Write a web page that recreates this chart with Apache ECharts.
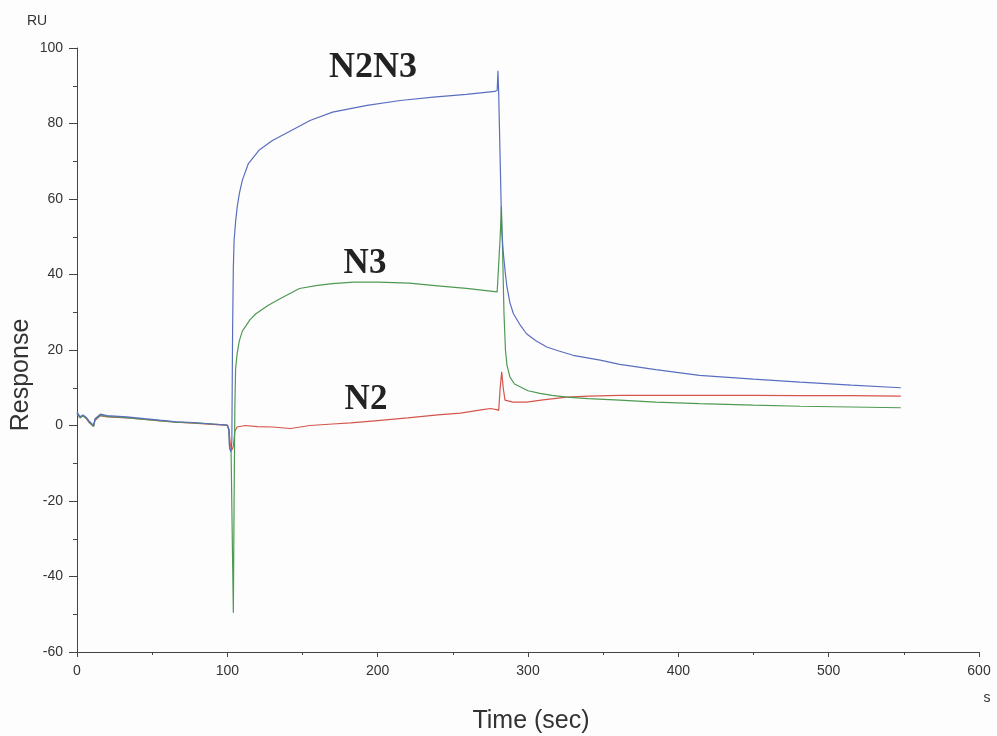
<!DOCTYPE html>
<html>
<head>
<meta charset="utf-8">
<style>
  html, body { margin: 0; padding: 0; background: #fdfdfd; }
  #chart { width: 997px; height: 736px; }
</style>
<script src="https://cdn.jsdelivr.net/npm/echarts@6/dist/echarts.min.js"></script>
</head>
<body>
<div id="chart"></div>
<script>
// Sensorgram: response (RU) against time (sec) for three analytes.
const n2n3Time = [0,2,4,6,8,11,12,15.5,20,33,45,55,66,77.5,90,97.5,100,101,101.5,102.5,103,103.5,104,104.5,105.5,106.6,108,110,114,121,130,141,155,170,193,215,237,259,278,279.5,280,280.5,281.5,282.5,283.5,285,286,288,290.3,295,299,305,312.5,320,330,348,361,385,414,450,481,515,548];
const n2n3Resp = [3.6,2.3,2.8,2.2,1.2,0,1.8,3,2.6,2.3,1.8,1.4,1.0,0.8,0.4,0.2,0.1,-1,-6,-7,-4,25,42,49,54,58,61.5,65,69.4,72.9,75.5,77.8,80.8,83,84.8,86.1,87,87.7,88.5,88.8,94,88,70,52,46,40,36.7,32.5,29.6,26.5,24.3,22.5,20.8,19.8,18.6,17.3,16.2,14.8,13.3,12.3,11.5,10.7,10.0];

const n3Time = [0,2,4,6,8,11,12,15.5,20,33,45,55,66,77.5,90,97.5,100,101,101.5,102.5,103.3,104,104.5,105,105.5,106.5,108,110,115,119,127,135,148,160,170,184,200,221,240,259,279.5,280.5,281.5,282.3,283,284,285,286,288,291,295,300,308,316,326,340,361,385,414,450,481,515,548];
const n3Resp = [3.2,2.0,2.6,2.0,1.0,-0.3,1.5,2.7,2.4,2.1,1.6,1.3,0.9,0.7,0.4,0.2,0,-1.2,-6,-7,-30,-49.6,-20,5,15,19,22.5,25,28,29.6,31.8,33.6,36.3,37.1,37.6,38,38,37.7,37,36.3,35.4,35.5,50,58,48,30,20,16,12.8,11,10.2,9.2,8.5,8,7.5,7.1,6.7,6.2,5.8,5.4,5.1,4.9,4.7];

const n2Time = [0,2,4,6,8,11,12,15.5,20,33,45,55,66,77.5,90,97.5,100,101,102,103,104,105,106.5,112,120,130,142,155,170,182,200,220,240,255,270,275,279,280.5,281.5,282.5,283.5,284.7,290,299,310,325.8,340,361,385,414,450,481,515,548];
const n2Resp = [3.0,2.2,2.5,1.9,0.8,-0.2,1.4,2.6,2.3,2.0,1.6,1.2,0.9,0.6,0.3,0.1,0.1,-1,-5,-6.5,-5.5,-1.5,-0.4,0,-0.3,-0.4,-0.8,0,0.4,0.7,1.3,2,2.8,3.3,4.2,4.5,4.2,4.0,10,14.2,10,6.7,6.2,6.2,6.8,7.5,7.8,8.0,8.0,8.0,8.0,7.9,7.9,7.8];

const xTicks = { min: 0, max: 600, interval: 100 };
const yTicks = { min: -60, max: 100, interval: 20 };

const zip = (xs, ys) => xs.map((x, i) => [x, ys[i]]);

const chart = echarts.init(document.getElementById('chart'), null, { renderer: 'canvas' });

const labelFont = 'Liberation Sans, Arial, sans-serif';
const traceFont = 'Liberation Serif, Times New Roman, serif';

function trace(name, xs, ys, color) {
  return {
    name, type: 'line', data: zip(xs, ys), showSymbol: false, symbol: 'none',
    lineStyle: { color, width: 1.2 }, silent: true, animation: false
  };
}

chart.setOption({
  backgroundColor: '#fdfdfd',
  animation: false,
  grid: { left: 77, right: 18, top: 48, bottom: 84, containLabel: false },
  xAxis: {
    type: 'value', min: xTicks.min, max: xTicks.max, interval: xTicks.interval,
    axisLine: { show: true, onZero: false, lineStyle: { color: '#444', width: 1 } },
    axisTick: { show: true, length: 5, lineStyle: { color: '#444' } },
    minorTick: { show: true, splitNumber: 2, length: 3, lineStyle: { color: '#444' } },
    splitLine: { show: false },
    axisLabel: { color: '#333', fontSize: 14, fontFamily: labelFont, margin: 12 }
  },
  yAxis: {
    type: 'value', min: yTicks.min, max: yTicks.max, interval: yTicks.interval,
    axisLine: { show: true, onZero: false, lineStyle: { color: '#444', width: 1 } },
    axisTick: { show: true, length: 8, lineStyle: { color: '#444' } },
    minorTick: { show: true, splitNumber: 2, length: 4, lineStyle: { color: '#444' } },
    splitLine: { show: false },
    axisLabel: { color: '#333', fontSize: 14, fontFamily: labelFont, margin: 14 }
  },
  series: [
    trace('N2', n2Time, n2Resp, '#d4564c'),
    trace('N3', n3Time, n3Resp, '#4f9a52'),
    trace('N2N3', n2n3Time, n2n3Resp, '#5a6ec0')
  ],
  graphic: [
    { type: 'text', left: 27, top: 14, style: { text: 'RU', fontSize: 14, fontFamily: labelFont, fill: '#333' } },
    { type: 'text', x: 987, y: 698,
      style: { text: 's', fontSize: 14, fontFamily: labelFont, fill: '#333', align: 'center', verticalAlign: 'middle' } },
    { type: 'text', x: 21, y: 375, rotation: Math.PI / 2,
      style: { text: 'Response', fontSize: 25, fontFamily: labelFont, fill: '#333', align: 'center', verticalAlign: 'middle' } },
    { type: 'text', x: 531, y: 721,
      style: { text: 'Time (sec)', fontSize: 25, fontFamily: labelFont, fill: '#333', align: 'center', verticalAlign: 'middle' } },
    { type: 'text', x: 373, y: 68,
      style: { text: 'N2N3', fontSize: 36, fontWeight: 'bold', fontFamily: traceFont, fill: '#222', align: 'center', verticalAlign: 'middle' } },
    { type: 'text', x: 365, y: 264,
      style: { text: 'N3', fontSize: 35, fontWeight: 'bold', fontFamily: traceFont, fill: '#222', align: 'center', verticalAlign: 'middle' } },
    { type: 'text', x: 366, y: 400,
      style: { text: 'N2', fontSize: 35, fontWeight: 'bold', fontFamily: traceFont, fill: '#222', align: 'center', verticalAlign: 'middle' } }
  ]
});
</script>
</body>
</html>
